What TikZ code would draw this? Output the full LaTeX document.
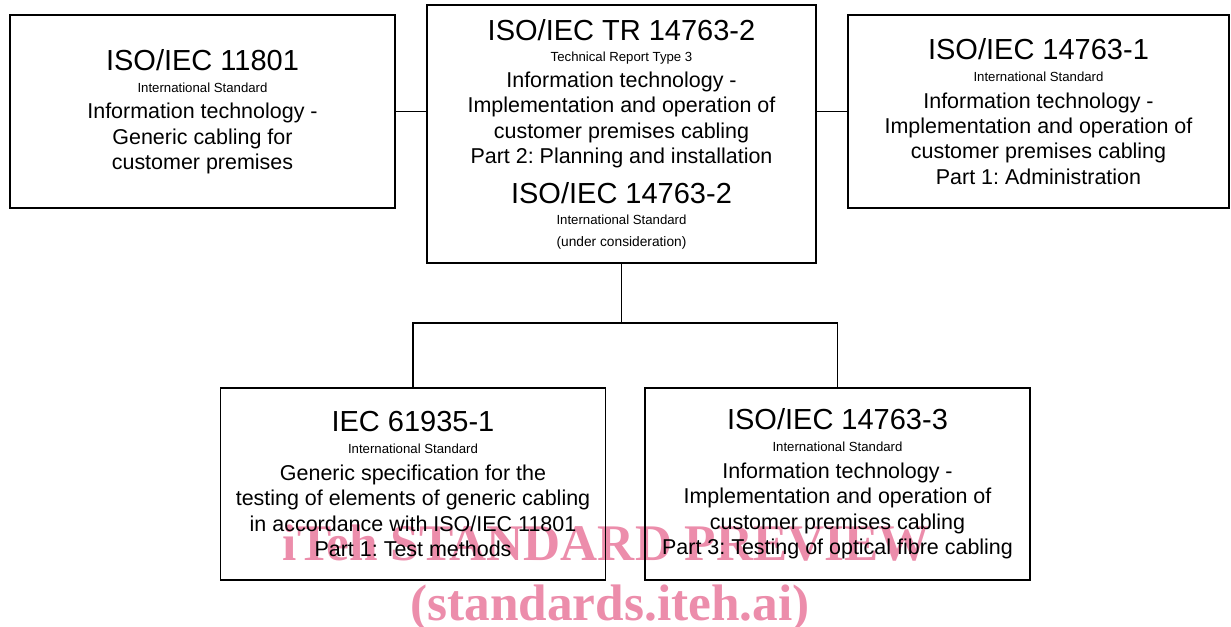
\documentclass[tikz,border=0pt]{standalone}
\usepackage{fontspec}
\setmainfont{Liberation Sans}
\newfontfamily\wmfont{Liberation Serif}
\usepackage{xcolor}
\usetikzlibrary{positioning}
\frenchspacing

\definecolor{wmpink}{RGB}{236,141,171}
\newcommand{\stdno}{\fontsize{21.75}{19}\selectfont}
\newcommand{\stdkind}{\fontsize{9.9}{19}\selectfont}
\newcommand{\stdtext}{\fontsize{16.1}{19}\selectfont}

\tikzset{
  stdbox/.style={draw, line width=1.3pt, rectangle, inner sep=0pt, align=center, font=\stdtext},
  link/.style={line width=1pt},
  wmtext/.style={text=wmpink, font=\wmfont\bfseries\fontsize{38.5}{40}\selectfont, inner sep=0pt, anchor=base}
}

\begin{document}
\begin{tikzpicture}[x=0.75pt,y=0.75pt,yscale=-1,xscale=1]
        \useasboundingbox (0,0) rectangle (1231,627);

        % Watermark
        \node [wmtext] (wmtop) at (606.5,560) {iTeh STANDARD PREVIEW};
        \node [wmtext] (wmbottom) at (610,620) {(standards.iteh.ai)};

        % Top row
        \node [stdbox, minimum width=288.75pt, minimum height=144.75pt] (iso11801) at (202.5,111.5)
          {{\stdno ISO/IEC 11801}\\[-2.5pt]
           {\stdkind International Standard}\\[1pt]
           Information technology -\\
           Generic cabling for\\
           customer premises};
        \node [stdbox, minimum width=291.75pt, minimum height=193.5pt] (tr14763) at (621.5,134)
          {{\stdno ISO/IEC TR 14763-2}\\[-3pt]
           {\stdkind Technical Report Type 3}\\[0.5pt]
           Information technology -\\
           Implementation and operation of\\
           customer premises cabling\\
           Part 2: Planning and installation\\[10pt]
           {\stdno ISO/IEC 14763-2}\\[-3.5pt]
           {\stdkind International Standard}\\[-2.5pt]
           {\fontsize{10.3}{19}\selectfont (under consideration)}};
        \node [stdbox, minimum width=285.75pt, minimum height=144.75pt] (iso14763a) at (1038.5,111.5)
          {{\stdno ISO/IEC 14763-1}\\[-2.5pt]
           {\stdkind International Standard}\\[1pt]
           Information technology -\\
           Implementation and operation of\\
           customer premises cabling\\
           Part 1: Administration};

        % Bottom row
        \node [stdbox, minimum width=288.75pt, minimum height=144pt] (iec61935) at (413,484)
          {{\stdno IEC 61935-1}\\[-2.5pt]
           {\stdkind International Standard}\\[1pt]
           Generic specification for the\\
           testing of elements of generic cabling\\
           in accordance with ISO/IEC 11801\\
           Part 1: Test methods};
        \node [stdbox, minimum width=288.75pt, minimum height=144pt] (iso14763c) at (837.5,484)
          {{\stdno ISO/IEC 14763-3}\\[-2.5pt]
           {\stdkind International Standard}\\[1pt]
           Information technology -\\
           Implementation and operation of\\
           customer premises cabling\\
           Part 3: Testing of optical fibre cabling};

        % Connectors
        \coordinate (bus) at (621.5,323);
        \draw [link] (iso11801.east) -- (tr14763.west |- iso11801.east);
        \draw [link] (tr14763.east |- iso14763a.west) -- (iso14763a.west);
        \draw [link] (tr14763.south) -- (bus);
        \draw [link] (iec61935.north) |- (iso14763c.north |- bus) -- (iso14763c.north);

\end{tikzpicture}
\end{document}
